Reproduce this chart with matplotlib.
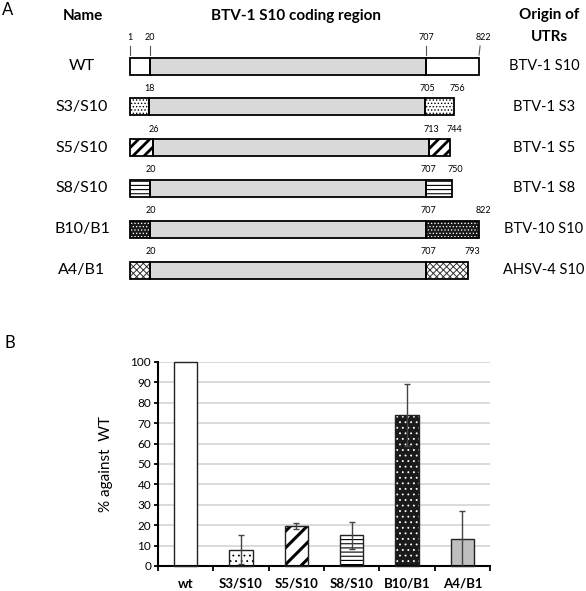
import matplotlib
matplotlib.use('Agg')
import matplotlib.pyplot as plt
from matplotlib.patches import Rectangle
import numpy as np

plt.rcParams['font.family'] = ['Lato', 'DejaVu Sans']

# ---------------- data ----------------
constructs = ['WT', 'S3/S10', 'S5/S10', 'S8/S10', 'B10/B1', 'A4/B1']
utr_origin = ['BTV-1 S10', 'BTV-1 S3', 'BTV-1 S5', 'BTV-1 S8', 'BTV-10 S10', 'AHSV-4 S10']
cds_start = [20, 18, 26, 20, 20, 20]
cds_end = [707, 705, 713, 707, 707, 707]
seg_end = [822, 756, 744, 750, 822, 793]

bar_labels = ['wt', 'S3/S10', 'S5/S10', 'S8/S10', 'B10/B1', 'A4/B1']
pct_vs_wt = [100, 8, 19.5, 15, 74, 13]
pct_err = [0, 7, 1.5, 6.5, 15, 14]

# ---------------- styles ----------------
utr_styles = [
    dict(fc='white', hatch=None, hc='black', hlw=1.0),
    dict(fc='white', hatch='.....', hc='black', hlw=0.6),
    dict(fc='white', hatch='///', hc='black', hlw=2.0),
    dict(fc='white', hatch='----', hc='black', hlw=0.8),
    dict(fc='#1a1a1a', hatch='.....', hc='white', hlw=0.5),
    dict(fc='white', hatch='xxxxx', hc='#333333', hlw=0.7),
]
bar_styles = [
    dict(fc='white', hatch=None, hc='black', hlw=1.0),
    dict(fc='white', hatch='...', hc='black', hlw=0.6),
    dict(fc='white', hatch='//', hc='black', hlw=2.2),
    dict(fc='white', hatch='----', hc='black', hlw=0.8),
    dict(fc='#1a1a1a', hatch='...', hc='white', hlw=0.6),
    dict(fc='#bfbfbf', hatch=None, hc='black', hlw=1.0),
]
cds_color = '#d9d9d9'

fig = plt.figure(figsize=(5.86, 5.91), dpi=100)

# ---------------- panel A (schematic, pixel coordinates) ----------------
axA = fig.add_axes([0, 0, 1, 1])
axA.set_xlim(0, 586)
axA.set_ylim(591, 0)
axA.axis('off')

x0 = 130.0
k_cds = 0.403
row0, row_step, bh = 66.0, 40.8, 17.0


def utr5_w(n):
    return 0.5 * n + 10


def utr3_w(n):
    return 0.38 * n + 9


def hatched_rect(ax, x, y, w, h, st, z=2):
    if st['hatch']:
        r = Rectangle((x, y), w, h, facecolor=st['fc'], edgecolor=st['hc'],
                      hatch=st['hatch'], linewidth=0, zorder=z)
        try:
            r.set_hatch_linewidth(st['hlw'])
        except AttributeError:
            pass
        ax.add_patch(r)
    else:
        ax.add_patch(Rectangle((x, y), w, h, facecolor=st['fc'], edgecolor='none',
                               linewidth=0, zorder=z))
    ax.add_patch(Rectangle((x, y), w, h, facecolor='none', edgecolor='black',
                           linewidth=1.3, zorder=z + 1))


for i, name in enumerate(constructs):
    yc = row0 + i * row_step
    yt = yc - bh / 2
    xa = x0 + utr5_w(cds_start[i] - 1)
    xb = xa + k_cds * (cds_end[i] - cds_start[i])
    xc = xb + utr3_w(seg_end[i] - cds_end[i])
    st = utr_styles[i]
    hatched_rect(axA, x0, yt, xa - x0, bh, st)
    hatched_rect(axA, xb, yt, xc - xb, bh, st)
    hatched_rect(axA, xa, yt, xb - xa, bh, dict(fc=cds_color, hatch=None, hc='k', hlw=1))
    axA.text(82, yc, name, ha='center', va='center', fontsize=11.5)
    axA.text(544, yc, utr_origin[i], ha='center', va='center', fontsize=10.5)
    if i == 0:
        ly = 37
        for xx in [x0, xa, xb]:
            axA.plot([xx, xx], [46, 55], color='#555555', lw=0.8)
        axA.plot([xc + 1, xc], [46, 55], color='#555555', lw=0.8)
        axA.text(x0, ly, '1', ha='center', va='center', fontsize=6.5)
        axA.text(xa, ly, str(cds_start[i]), ha='center', va='center', fontsize=6.5)
        axA.text(xb, ly, str(cds_end[i]), ha='center', va='center', fontsize=6.5)
        axA.text(xc + 4, ly, str(seg_end[i]), ha='center', va='center', fontsize=6.5)
    else:
        ly = yt - 10
        axA.text(xa + 1, ly, str(cds_start[i]), ha='center', va='center', fontsize=6.5)
        axA.text(xb + 2, ly, str(cds_end[i]), ha='center', va='center', fontsize=6.5)
        axA.text(xc + 4, ly, str(seg_end[i]), ha='center', va='center', fontsize=6.5)

axA.text(2, 10, 'A', ha='left', va='center', fontsize=12)
axA.text(5, 343, 'B', ha='left', va='center', fontsize=12)
axA.text(83, 16, 'Name', ha='center', va='center', fontsize=11, fontweight='bold')
axA.text(296, 16, 'BTV-1 S10 coding region', ha='center', va='center',
         fontsize=11, fontweight='bold')
axA.text(549, 15, 'Origin of', ha='center', va='center', fontsize=11, fontweight='bold')
axA.text(549, 37, 'UTRs', ha='center', va='center', fontsize=11, fontweight='bold')

# ---------------- panel B (bar chart) ----------------
W, H = 586.0, 591.0
axB = fig.add_axes([158 / W, (H - 566) / H, (490 - 158) / W, (566 - 362) / H])
xpos = np.arange(len(bar_labels))
bw = 0.42
for i in range(len(bar_labels)):
    st = bar_styles[i]
    if st['hatch']:
        b = axB.bar(xpos[i], pct_vs_wt[i], width=bw, color=st['fc'], edgecolor=st['hc'],
                    hatch=st['hatch'], linewidth=0, zorder=2, clip_on=False)
        for p in b:
            try:
                p.set_hatch_linewidth(st['hlw'])
            except AttributeError:
                pass
    else:
        axB.bar(xpos[i], pct_vs_wt[i], width=bw, color=st['fc'], linewidth=0,
                zorder=2, clip_on=False)
    axB.bar(xpos[i], pct_vs_wt[i], width=bw, color='none', edgecolor='#222222',
            linewidth=1.0, zorder=3, clip_on=False)

err = np.array(pct_err, dtype=float)
vals = np.array(pct_vs_wt, dtype=float)
m = err > 0
axB.errorbar(xpos[m], vals[m], yerr=err[m], fmt='none', ecolor='#444444',
             elinewidth=1.0, capsize=2.2, capthick=1.0, zorder=4)

axB.set_xlim(-0.5, len(bar_labels) - 0.5)
axB.set_ylim(0, 100)
axB.set_yticks(np.arange(0, 101, 10))
axB.yaxis.grid(True, color='#d4d4d4', linewidth=1.2, zorder=0)
axB.set_axisbelow(True)
axB.set_xticks(np.arange(-0.5, len(bar_labels), 1.0))
axB.set_xticklabels([])
axB.set_xticks(xpos, minor=True)
axB.set_xticklabels(bar_labels, minor=True, fontsize=9.5, fontweight='bold')
axB.tick_params(axis='x', which='minor', length=0, pad=8.5)
axB.tick_params(axis='x', which='major', length=3.5, width=1.3, direction='out')
axB.tick_params(axis='y', length=3, width=1.3, direction='out', labelsize=8.5, pad=2)
for s in ['top', 'right']:
    axB.spines[s].set_visible(False)
for s in ['left', 'bottom']:
    axB.spines[s].set_linewidth(1.5)
    axB.spines[s].set_color('black')
axB.set_ylabel('% against  WT', fontsize=11)
axB.yaxis.set_label_coords(-0.136, 0.5)

fig.savefig('out.png', dpi=100)
